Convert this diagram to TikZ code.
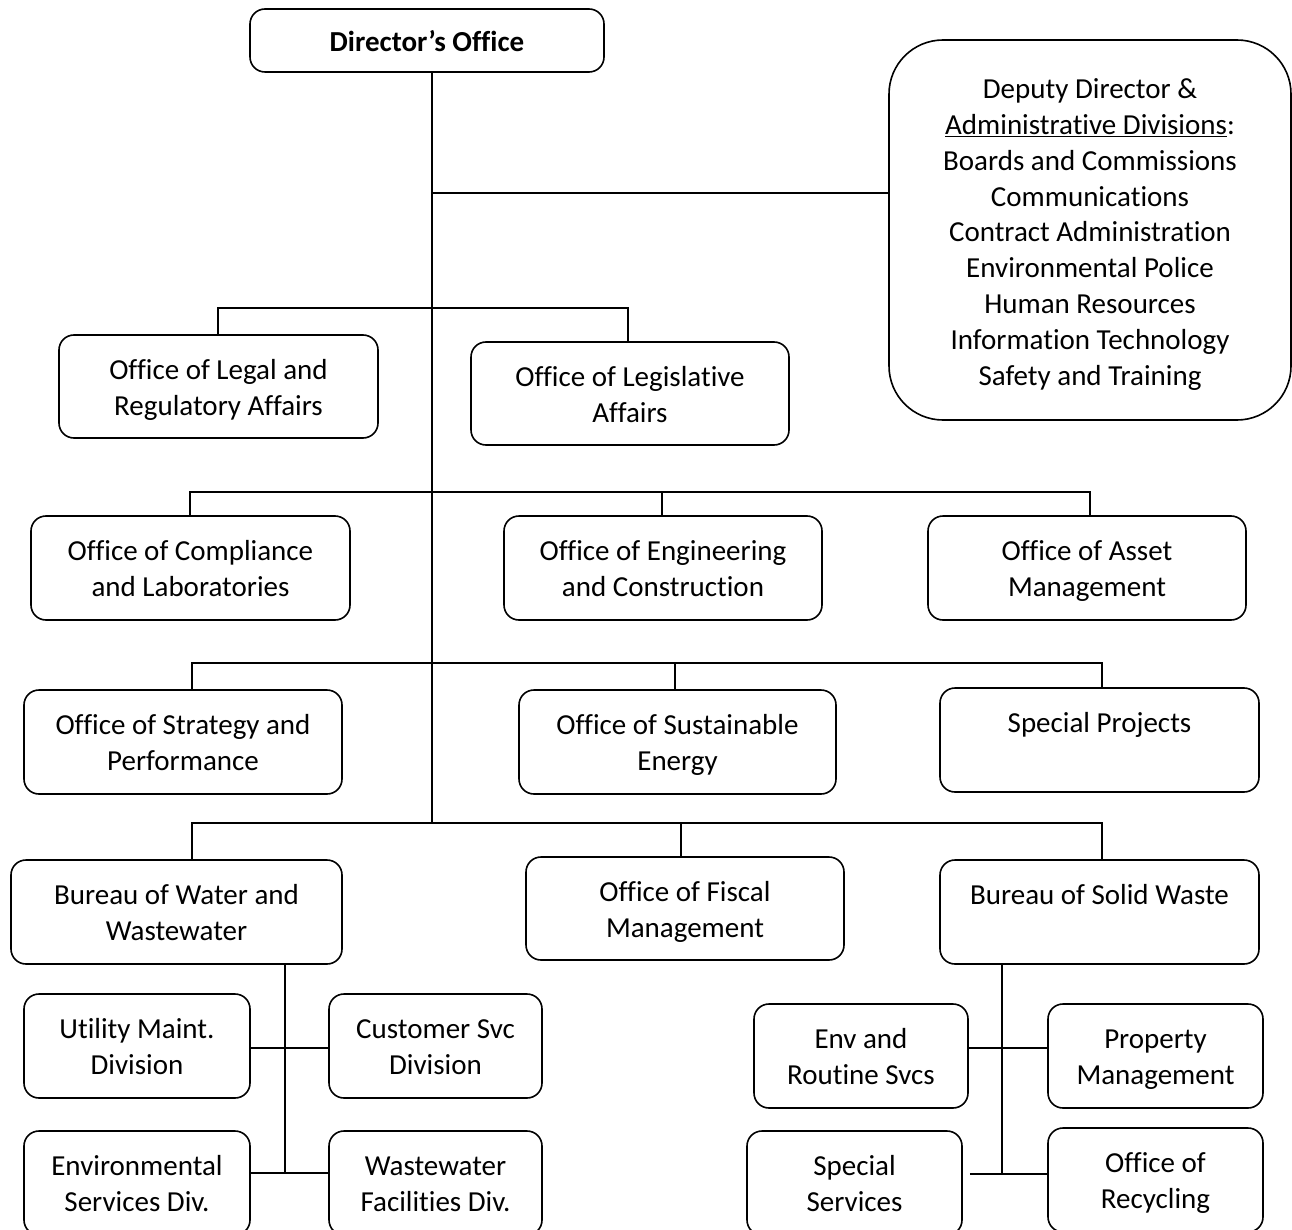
\documentclass[tikz,border=0pt]{standalone}
\usepackage{fontspec}
\setmainfont{Carlito}[Ligatures=NoCommon]
\begin{document}
\begin{tikzpicture}[x=1pt,y=-1pt,
  box/.style={draw, line width=1.6pt, rounded corners=15pt, align=center, inner sep=0pt,
    font=\fontsize{29}{35.8}\selectfont, text height=57pt, text depth=0pt},
  conn/.style={line width=1.6pt}]
\clip (0,0) rectangle (1292,1230);
% boxes
\node[box, minimum width=354pt, minimum height=63pt, font=\bfseries\fontsize{29}{35.8}\selectfont,
  text height=22pt] (dir) at (427,40.5) {Director’s Office};
\node[box, rounded corners=54pt, minimum width=402pt, minimum height=380pt, text height=310pt] (dep) at (1090,230)
  {Deputy Director \&\\\underline{Administrative Divisions}:\\Boards and Commissions\\Communications\\Contract Administration\\Environmental Police\\Human Resources\\Information Technology\\Safety and Training};
\node[box, minimum width=319pt, minimum height=103pt] (legal) at (218.5,386.5) {Office of Legal and\\Regulatory Affairs};
\node[box, minimum width=318pt, minimum height=103pt] (legis) at (630,393.5) {Office of Legislative\\Affairs};
\node[box, minimum width=319pt, minimum height=104pt] (compl) at (190.5,568) {Office of Compliance\\and Laboratories};
\node[box, minimum width=318pt, minimum height=104pt] (eng) at (663,568) {Office of Engineering\\and Construction};
\node[box, minimum width=318pt, minimum height=104pt] (asset) at (1087,568) {Office of Asset\\Management};
\node[box, minimum width=318pt, minimum height=104pt] (strat) at (183,742) {Office of Strategy and\\Performance};
\node[box, minimum width=317pt, minimum height=104pt] (sust) at (677.5,742) {Office of Sustainable\\Energy};
\node[box, minimum width=319pt, minimum height=104pt] (spec) at (1099.5,740) {Special Projects\\~};
\node[box, minimum width=331pt, minimum height=104pt] (bww) at (176.5,912) {Bureau of Water and\\Wastewater};
\node[box, minimum width=318pt, minimum height=103pt] (fisc) at (685,908.5) {Office of Fiscal\\Management};
\node[box, minimum width=319pt, minimum height=104pt] (bsw) at (1099.5,912) {Bureau of Solid Waste\\~};
\node[box, minimum width=226pt, minimum height=104pt] (util) at (137,1046) {Utility Maint.\\Division};
\node[box, minimum width=213pt, minimum height=104pt] (cust) at (435.5,1046) {Customer Svc\\Division};
\node[box, minimum width=226pt, minimum height=104pt] (envs) at (137,1183) {Environmental\\Services Div.};
\node[box, minimum width=213pt, minimum height=104pt] (wwf) at (435.5,1183) {Wastewater\\Facilities Div.};
\node[box, minimum width=214pt, minimum height=104pt] (envr) at (861,1056) {Env and\\Routine Svcs};
\node[box, minimum width=215pt, minimum height=104pt] (prop) at (1155.5,1056) {Property\\Management};
\node[box, minimum width=215pt, minimum height=104pt] (sps) at (854.5,1183) {Special\\Services};
\node[box, minimum width=215pt, minimum height=104pt] (recy) at (1155.5,1180) {Office of\\Recycling};
% junction coordinates
\coordinate (tk) at (432,0);
\coordinate (jdep) at (432,193);
\coordinate (j4) at (432,823);
\coordinate (d1a) at (218,308); \coordinate (d1b) at (628,308);
\coordinate (d2a) at (190,492); \coordinate (d2b) at (662,492); \coordinate (d2c) at (1090,492);
\coordinate (d3a) at (192,663); \coordinate (d3b) at (675,663); \coordinate (d3c) at (1102,663);
\coordinate (d4a) at (192,823); \coordinate (d4b) at (681,823); \coordinate (d4c) at (1102,823);
\coordinate (wx) at (285,1048); \coordinate (wy) at (285,1173);
\coordinate (sx) at (1002,1048); \coordinate (sy) at (1002,1174);
% connectors
\draw[conn] (dir.south -| tk) -- (j4);
\draw[conn] (jdep) -- (jdep -| dep.west);
\draw[conn] (legal.north -| d1a) -- (d1a) -- (d1b) -- (legis.north -| d1b);
\draw[conn] (compl.north -| d2a) -- (d2a) -- (d2c) -- (asset.north -| d2c);
\draw[conn] (d2b) -- (eng.north -| d2b);
\draw[conn] (strat.north -| d3a) -- (d3a) -- (d3c) -- (spec.north -| d3c);
\draw[conn] (d3b) -- (sust.north -| d3b);
\draw[conn] (bww.north -| d4a) -- (d4a) -- (d4c) -- (bsw.north -| d4c);
\draw[conn] (d4b) -- (fisc.north -| d4b);
\draw[conn] (bww.south -| wx) -- (wy);
\draw[conn] (util.east |- wx) -- (cust.west |- wx);
\draw[conn] (envs.east |- wy) -- (wwf.west |- wy);
\draw[conn] (bsw.south -| sx) -- (sy);
\draw[conn] (envr.east |- sx) -- (prop.west |- sx);
\draw[conn] ([xshift=7pt]sps.east |- sy) -- (recy.west |- sy);
\end{tikzpicture}
\end{document}
